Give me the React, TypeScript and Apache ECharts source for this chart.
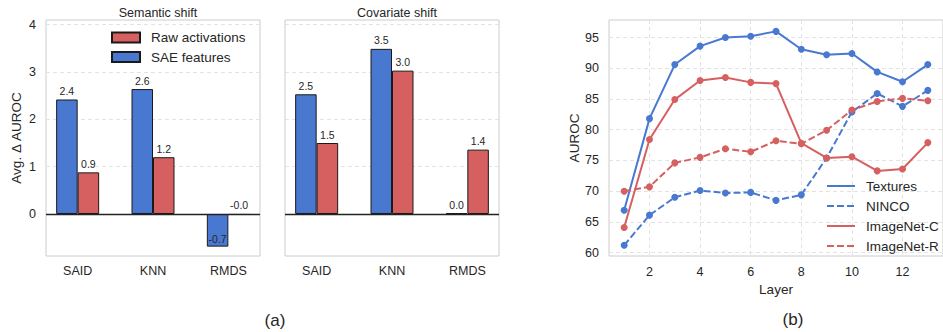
import React, { useEffect, useRef } from "react";
import * as echarts from "echarts";

const categories = ["SAID", "KNN", "RMDS"];
const semanticSAE = [2.42, 2.64, -0.69];
const semanticRaw = [0.88, 1.2, -0.02];
const covariateSAE = [2.53, 3.49, 0.02];
const covariateRaw = [1.5, 3.03, 1.36];
const barTicks = [0, 1, 2, 3, 4];

const layers = [1, 2, 3, 4, 5, 6, 7, 8, 9, 10, 11, 12, 13];
const textures = [66.9, 81.8, 90.6, 93.6, 95.0, 95.2, 96.0, 93.1, 92.2, 92.4, 89.4, 87.8, 90.6];
const ninco = [61.2, 66.1, 69.0, 70.1, 69.7, 69.8, 68.5, 69.4, 75.4, 82.9, 85.9, 83.8, 86.4];
const imagenetC = [64.1, 78.4, 84.9, 88.0, 88.5, 87.7, 87.5, 77.8, 75.4, 75.6, 73.3, 73.6, 77.9];
const imagenetR = [70.0, 70.7, 74.6, 75.5, 76.9, 76.4, 78.2, 77.7, 79.9, 83.2, 84.6, 85.1, 84.7];
const layerTicks = [2, 4, 6, 8, 10, 12];
const aurocTicks = [60, 65, 70, 75, 80, 85, 90, 95];

const BLUE = "#4878D0";
const RED = "#D65F5F";
const TXT = "#262626";
const FONT = "Liberation Sans, Arial, sans-serif";

function barData(vals: number[]) {
  return vals.map((v, i) => ({
    value: [i, v],
    label: v < -0.1 ? { position: "insideBottom", distance: 2 } : undefined,
  }));
}

function barSeries(name: string, vals: number[], color: string, idx: number, zero: boolean) {
  return {
    type: "bar",
    name,
    xAxisIndex: idx,
    yAxisIndex: idx,
    data: barData(vals),
    barWidth: 21.5,
    barGap: "0%",
    itemStyle: { color, borderColor: "#1a1a1a", borderWidth: 1 },
    label: {
      show: true,
      position: "top",
      distance: 3,
      fontSize: 10.5,
      fontFamily: FONT,
      color: TXT,
      formatter: (p: any) => Number(p.value[1]).toFixed(1),
    },
    markLine: zero
      ? {
          symbol: "none",
          silent: true,
          label: { show: false },
          lineStyle: { color: "#222", width: 1.3, type: "solid" },
          data: [{ yAxis: 0 }],
        }
      : undefined,
  };
}

function lineSeries(name: string, vals: number[], color: string, dashed: boolean) {
  return {
    type: "line",
    name,
    xAxisIndex: 2,
    yAxisIndex: 2,
    data: layers.map((l, i) => [l, vals[i]]),
    symbol: "circle",
    symbolSize: 7,
    itemStyle: { color },
    lineStyle: { color, width: 2, type: dashed ? [7, 3] : "solid" },
  };
}

function barXAxis(idx: number) {
  return {
    type: "value",
    gridIndex: idx,
    min: -0.42,
    max: 2.42,
    axisLine: { show: false },
    axisTick: { show: false, customValues: [0, 1, 2] },
    splitLine: { show: false },
    axisLabel: {
      customValues: [0, 1, 2],
      formatter: (v: number) => categories[Math.round(v)] ?? "",
      fontSize: 12.5,
      fontFamily: FONT,
      color: TXT,
      margin: 8,
    },
  };
}

function barYAxis(idx: number, showLabels: boolean) {
  return {
    type: "value",
    gridIndex: idx,
    min: -0.888,
    max: 4.1,
    name: showLabels ? "Avg. Δ AUROC" : "",
    nameLocation: "middle",
    nameGap: 23,
    nameTextStyle: { fontSize: 13.5, fontFamily: FONT, color: TXT },
    axisLine: { show: false },
    axisTick: { show: false, customValues: barTicks },
    splitLine: { show: true, lineStyle: { color: "#e3e3e3", type: [4, 3], width: 1 } },
    axisLabel: {
      show: showLabels,
      customValues: barTicks,
      fontSize: 12.5,
      fontFamily: FONT,
      color: TXT,
      margin: 10,
    },
  };
}

export default function App() {
  const ref = useRef<HTMLDivElement>(null);
  useEffect(() => {
    if (!ref.current) return;
    const chart = echarts.init(ref.current, undefined, { renderer: "svg" });
    chart.setOption({
      animation: false,
      backgroundColor: "#ffffff",
      textStyle: { fontFamily: FONT },
      title: [
        { text: "Semantic shift", left: 153, top: 1, textAlign: "center", textStyle: { fontSize: 12.5, fontWeight: "normal", color: TXT, fontFamily: FONT } },
        { text: "Covariate shift", left: 392, top: 1, textAlign: "center", textStyle: { fontSize: 12.5, fontWeight: "normal", color: TXT, fontFamily: FONT } },
        { text: "(a)", left: 270, top: 307, textAlign: "center", textStyle: { fontSize: 17, fontWeight: "normal", color: TXT, fontFamily: FONT } },
        { text: "(b)", left: 788, top: 306, textAlign: "center", textStyle: { fontSize: 17, fontWeight: "normal", color: TXT, fontFamily: FONT } },
      ],
      grid: [
        { left: 46, top: 20, width: 214, height: 236, show: true, borderColor: "#cccccc", borderWidth: 1, backgroundColor: "transparent" },
        { left: 285, top: 20, width: 214, height: 236, show: true, borderColor: "#cccccc", borderWidth: 1, backgroundColor: "transparent" },
        { left: 609, top: 20, width: 337, height: 236, show: true, borderColor: "#cccccc", borderWidth: 1, backgroundColor: "transparent" },
      ],
      legend: [
        {
          data: ["Raw activations", "SAE features"],
          orient: "vertical",
          left: 111,
          top: 29.5,
          padding: 0,
          itemGap: 3.5,
          itemWidth: 28,
          itemHeight: 10,
          icon: "rect",
          textStyle: { fontSize: 13.5, fontFamily: FONT, color: TXT, lineHeight: 16, padding: [0, 0, 0, 6] },
        },
        {
          data: ["Textures", "NINCO", "ImageNet-C", "ImageNet-R"],
          orient: "vertical",
          left: 826,
          top: 178,
          padding: 0,
          itemGap: 4,
          itemWidth: 28,
          itemHeight: 10,
          itemStyle: { opacity: 0 },
          textStyle: { fontSize: 13.5, fontFamily: FONT, color: TXT, lineHeight: 16, padding: [0, 0, 0, 6] },
        },
      ],
      xAxis: [
        barXAxis(0),
        barXAxis(1),
        {
          type: "value",
          gridIndex: 2,
          min: 0.4,
          max: 13.6,
          name: "Layer",
          nameLocation: "middle",
          nameGap: 24,
          nameTextStyle: { fontSize: 13.5, fontFamily: FONT, color: TXT },
          axisLine: { show: false },
          axisTick: { show: false, customValues: layerTicks },
          splitLine: { show: true, lineStyle: { color: "#e3e3e3", type: [4, 3], width: 1 } },
          axisLabel: { customValues: layerTicks, fontSize: 12.5, fontFamily: FONT, color: TXT, margin: 9 },
        },
      ],
      yAxis: [
        barYAxis(0, true),
        barYAxis(1, false),
        {
          type: "value",
          gridIndex: 2,
          min: 59.45,
          max: 97.85,
          name: "AUROC",
          nameLocation: "middle",
          nameGap: 27,
          nameTextStyle: { fontSize: 13.5, fontFamily: FONT, color: TXT },
          axisLine: { show: false },
          axisTick: { show: false, customValues: aurocTicks },
          splitLine: { show: true, lineStyle: { color: "#e3e3e3", type: [4, 3], width: 1 } },
          axisLabel: { customValues: aurocTicks, fontSize: 12.5, fontFamily: FONT, color: TXT, margin: 10 },
        },
      ],
      series: [
        barSeries("SAE features", semanticSAE, BLUE, 0, true),
        barSeries("Raw activations", semanticRaw, RED, 0, false),
        barSeries("SAE features", covariateSAE, BLUE, 1, true),
        barSeries("Raw activations", covariateRaw, RED, 1, false),
        lineSeries("Textures", textures, BLUE, false),
        lineSeries("NINCO", ninco, BLUE, true),
        lineSeries("ImageNet-C", imagenetC, RED, false),
        lineSeries("ImageNet-R", imagenetR, RED, true),
      ],
    });
    return () => chart.dispose();
  }, []);
  return <div ref={ref} style={{ position: "absolute", left: 0, top: 0, width: 943, height: 332 }} />;
}
